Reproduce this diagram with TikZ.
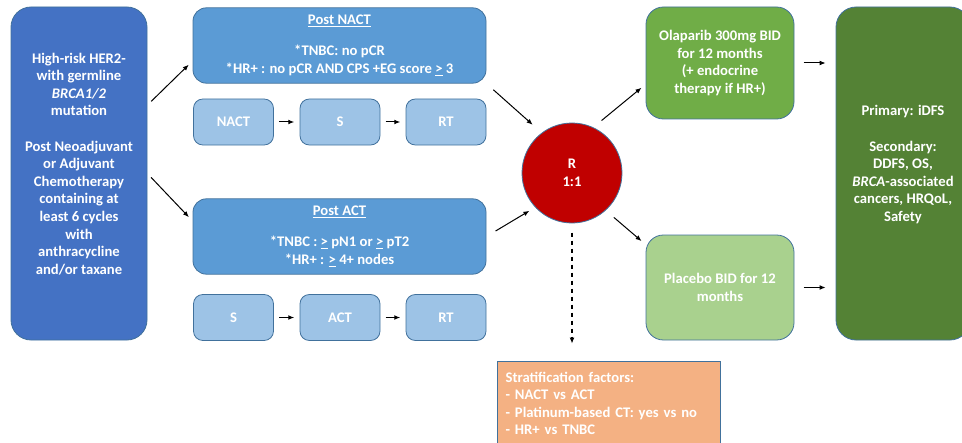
\documentclass[tikz,border=0pt]{standalone}
\usepackage{fontspec}
\setmainfont{Carlito}
\usetikzlibrary{arrows.meta}
\definecolor{edge}{HTML}{41719C}
\definecolor{pop}{HTML}{4472C4}
\definecolor{post}{HTML}{5B9BD5}
\definecolor{seq}{HTML}{9DC3E6}
\definecolor{rand}{HTML}{C00000}
\definecolor{ola}{HTML}{70AD47}
\definecolor{plac}{HTML}{A9D18E}
\definecolor{endp}{HTML}{548235}
\definecolor{strat}{HTML}{F4B183}

\begin{document}
\begin{tikzpicture}[x=0.75pt,y=-0.75pt,>={Latex[length=4.5pt,width=3.6pt]},
   box/.style={draw=edge,line width=0.6pt,text=white,align=center,
      font=\fontsize{11}{13.2}\selectfont\bfseries,inner sep=0pt},
   seqbox/.style={box,fill=seq,minimum width=60pt,minimum height=34.5pt,rounded corners=7pt},
   postbox/.style={box,fill=post,minimum width=219.75pt,minimum height=56.5pt,rounded corners=10pt},
   arm/.style={box,minimum width=111pt,rounded corners=13pt},
   link/.style={->,line width=0.75pt,shorten >=4pt,shorten <=4pt}]
   \clip (0,0) rectangle (962,442);
   % population
   \node[box,fill=pop,minimum width=102pt,minimum height=249.75pt,rounded corners=15pt] (pop) at (79,173.5)
      {High-risk HER2-\\with germline\\\textit{BRCA1/2}\\mutation\\[13.2pt]Post Neoadjuvant\\or Adjuvant\\Chemotherapy\\containing at\\least 6 cycles\\with\\anthracycline\\and/or taxane\\[1.8pt]\mbox{}};
   % post NACT branch
   \node[postbox] (nact) at (339.5,45.5)
      {\underline{Post NACT}\\[10pt]*TNBC: no pCR\\*HR+ : no pCR AND CPS +EG score \underline{>} 3};
   \node[seqbox] (n1) at (233.5,122) {NACT};
   \node[seqbox] (n2) at (340,122) {S};
   \node[seqbox] (n3) at (446,122) {RT};
   % post ACT branch
   \node[postbox] (act) at (339.5,236.5)
      {\underline{Post ACT}\\[10pt]*TNBC : \underline{>} pN1 or \underline{>} pT2\\*HR+ : \underline{>} 4+ nodes};
   \node[seqbox] (a1) at (233.5,317.5) {S};
   \node[seqbox] (a2) at (340,317.5) {ACT};
   \node[seqbox] (a3) at (446,317.5) {RT};
   % randomisation
   \node[box,circle,fill=rand,minimum size=75pt] (R) at (572,173) {R\\1:1};
   % arms
   \node[arm,fill=ola,minimum height=84pt] (olap) at (720,63)
      {Olaparib 300mg BID\\for 12 months\\(+ endocrine\\therapy if HR+)};
   \node[arm,fill=plac,minimum height=78.75pt] (plac) at (720,287.5)
      {Placebo BID for 12\\months};
   % endpoints
   \node[box,fill=endp,minimum width=100.5pt,minimum height=249.75pt,rounded corners=15pt] (endp) at (903,173.5)
      {Primary: iDFS\\[13.2pt]Secondary:\\DDFS, OS,\\\textit{BRCA}-associated\\cancers, HRQoL,\\Safety\\[1.8pt]\mbox{}};
   % stratification
   \node[box,fill=strat,rounded corners=0pt,minimum width=167.25pt,minimum height=63pt,
      align=left,text width=155pt,inner xsep=6pt,anchor=north west] (strat) at (497,361)
      {Stratification factors:\\- NACT vs ACT\\- Platinum-based CT: yes vs no\\- HR+ vs TNBC};

   \draw[link] (pop.45) -- (nact.186);
   \draw[link] (pop.east) -- (act.174);
   \draw[link] (n1) -- (n2);
   \draw[link] (n2) -- (n3);
   \draw[link] (a1) -- (a2);
   \draw[link] (a2) -- (a3);
   \draw[link,shorten <=7pt,shorten >=9pt] (nact.south east) -- (R.127);
   \draw[link,shorten <=8pt,shorten >=5pt] (act.east) -- (R.223);
   \draw[link,shorten <=8pt,shorten >=4pt] (R.65) -- (olap.196);
   \draw[link,shorten <=8pt,shorten >=4pt] (R.-48) -- (plac.150);
   \draw[->,line width=1pt,dashed,shorten <=7pt,shorten >=13pt] (R.south) -- (R.south |- strat.north);
   \draw[link,shorten <=7pt,shorten >=7.5pt] (olap.east) -- (olap.east -| endp.west);
   \draw[link,shorten <=7pt,shorten >=7.5pt] (plac.east) -- (plac.east -| endp.west);
\end{tikzpicture}
\end{document}
